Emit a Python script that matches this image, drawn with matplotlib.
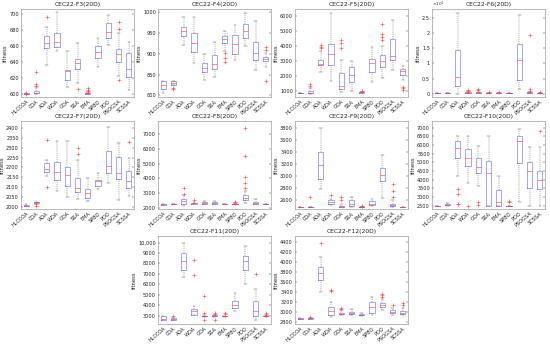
import numpy as np
import matplotlib
matplotlib.use("Agg")
import matplotlib.pyplot as plt
from matplotlib.ticker import FuncFormatter

algos = ["HLCCOA", "COA", "AOA", "WOA", "GOA", "SSA", "EMA", "SPBO", "PDO", "PSOGSA", "SCSSA"]

# each box: (whisker low, q1, median, q3, whisker high, [fliers])
F3 = [(600, 600, 600.3, 600.6, 601, [600.2, 600.4]),
      (600, 600.5, 601, 604, 608, [610, 612, 627]),
      (636, 657, 663, 672, 683, [696]),
      (653, 659, 665, 676, 702, []),
      (608, 617, 629, 630, 654, []),
      (613, 631, 638, 644, 663, [606]),
      (600, 600.2, 600.5, 601, 601.5, [602, 603, 605, 607]),
      (633, 645, 652, 660, 670, []),
      (661, 670, 677, 688, 699, []),
      (622, 640, 650, 656, 676, [681, 690, 617]),
      (605, 621, 631, 651, 665, [])]
F4 = [(806, 816, 824, 834, 834, []),
      (826, 826, 830, 834, 834, [818, 815]),
      (922, 944, 954, 964, 988, []),
      (878, 904, 926, 950, 988, []),
      (836, 856, 866, 878, 900, []),
      (844, 864, 876, 898, 928, []),
      (908, 926, 936, 944, 954, [902, 890, 880]),
      (884, 900, 924, 946, 970, []),
      (918, 938, 956, 972, 998, []),
      (862, 884, 902, 928, 978, []),
      (868, 882, 888, 892, 902, [917, 910, 835])]
F5 = [(880, 885, 890, 895, 900, []),
      (850, 860, 900, 1000, 1240, [1350, 1480]),
      (2280, 2725, 2840, 3100, 3720, [4100, 3900, 3950]),
      (1690, 2790, 3500, 4160, 6220, []),
      (950, 1150, 1330, 2200, 3080, [4400, 4200, 3900]),
      (1000, 1620, 2100, 2600, 3050, []),
      (900, 920, 940, 960, 980, [1000, 1020]),
      (1620, 2300, 2880, 3160, 3980, []),
      (1900, 2600, 3050, 3400, 4050, [5500, 4800, 4600, 4400]),
      (2450, 3060, 3390, 4500, 5750, []),
      (1770, 2060, 2390, 2500, 2700, [1300, 1200, 1100])]
F6 = [(0.018, 0.018, 0.019, 0.02, 0.021, []),
      (0.018, 0.019, 0.02, 0.021, 0.022, []),
      (0.0, 0.245, 0.54, 1.45, 2.64, []),
      (0.02, 0.03, 0.04, 0.05, 0.07, [0.1, 0.12, 0.09]),
      (0.02, 0.03, 0.04, 0.05, 0.07, [0.12, 0.15]),
      (0.02, 0.025, 0.03, 0.035, 0.04, [0.06]),
      (0.02, 0.025, 0.03, 0.035, 0.04, [0.07]),
      (0.02, 0.025, 0.03, 0.035, 0.04, []),
      (0.16, 0.46, 1.1, 1.65, 2.58, []),
      (0.02, 0.03, 0.04, 0.05, 0.07, [1.92, 0.15, 0.1]),
      (0.02, 0.025, 0.03, 0.035, 0.04, [0.06])]
F7 = [(2002, 2003, 2005, 2008, 2016, []),
      (2020, 2021, 2022, 2023, 2024, [2003, 2012]),
      (2154, 2174, 2193, 2221, 2237, [2337, 2100]),
      (2080, 2138, 2176, 2226, 2332, []),
      (2050, 2105, 2163, 2201, 2332, []),
      (2038, 2075, 2097, 2146, 2238, [2299, 2266]),
      (2027, 2043, 2071, 2088, 2146, []),
      (2088, 2105, 2129, 2138, 2171, []),
      (2121, 2171, 2209, 2282, 2403, []),
      (2033, 2141, 2171, 2254, 2325, []),
      (2055, 2096, 2133, 2179, 2249, [2328])]
F8 = [(2200, 2205, 2210, 2215, 2220, []),
      (2210, 2215, 2220, 2225, 2230, []),
      (2130, 2240, 2430, 2600, 2870, [3350, 2900]),
      (2220, 2250, 2290, 2320, 2400, [2500]),
      (2220, 2250, 2300, 2380, 2420, []),
      (2210, 2230, 2300, 2370, 2420, []),
      (2210, 2215, 2220, 2225, 2230, []),
      (2210, 2220, 2230, 2240, 2250, [2300, 2350, 2400]),
      (2280, 2520, 2680, 2850, 3100, [7400, 5500, 4100, 3700, 3350]),
      (2220, 2250, 2320, 2380, 2560, []),
      (2210, 2215, 2220, 2225, 2230, [])]
F9 = [(2481, 2481, 2481, 2481, 2481, []),
      (2481, 2481, 2481, 2483, 2485, [2650]),
      (2789, 2951, 3184, 3411, 3816, []),
      (2510, 2540, 2570, 2600, 2620, [2680]),
      (2481, 2481, 2482, 2500, 2530, [2650, 2600]),
      (2481, 2500, 2530, 2600, 2650, []),
      (2481, 2481, 2482, 2484, 2490, [2500, 2505]),
      (2500, 2520, 2540, 2580, 2620, []),
      (2627, 2914, 3022, 3130, 3357, []),
      (2481, 2500, 2520, 2540, 2600, [2870, 2760, 2650]),
      (2481, 2481, 2481, 2482, 2483, [])]
F10 = [(2500, 2500, 2501, 2502, 2503, []),
       (2510, 2520, 2540, 2620, 2630, []),
       (4190, 5220, 5840, 6250, 6530, [3450, 3200, 2620, 2580]),
       (3810, 4810, 5220, 5750, 6530, [2500]),
       (3620, 4370, 4750, 5255, 5910, [2700, 2550]),
       (2500, 2500, 4410, 5070, 6530, []),
       (2500, 2500, 2690, 3400, 4190, []),
       (2500, 2500, 2501, 2502, 2503, [2750, 2700]),
       (2690, 4940, 6250, 6530, 6940, []),
       (2500, 3490, 4470, 5030, 5870, []),
       (2500, 3440, 4000, 4470, 5870, [6810])]
F11 = [(2600, 2620, 2700, 2950, 3000, []),
       (2600, 2620, 2650, 2750, 2900, [3000]),
       (6705, 7335, 8275, 8965, 10000, []),
       (3050, 3100, 3400, 3660, 3880, [8350, 6850]),
       (2900, 2920, 2950, 3000, 3050, [4850, 3300, 2600]),
       (2900, 2920, 2950, 3050, 3100, [3200, 3250, 2600]),
       (2900, 2920, 2950, 2960, 2980, [3300, 3200]),
       (3410, 3730, 4050, 4360, 5140, []),
       (6020, 7340, 8275, 8750, 9690, []),
       (2630, 2940, 3410, 4450, 5600, [6950]),
       (2900, 2920, 2950, 2960, 2980, [3100, 3200, 3300])]
F12 = [(2864, 2864, 2865, 2866, 2867, []),
       (2864, 2865, 2868, 2875, 2880, [2890]),
       (3400, 3650, 3780, 3910, 4100, [4380]),
       (2900, 2945, 3010, 3095, 3190, [3450, 3420]),
       (2930, 2950, 2965, 2985, 3030, [3050, 3070]),
       (2930, 2950, 2970, 3000, 3050, []),
       (2920, 2935, 2945, 2960, 2970, []),
       (2930, 2980, 3090, 3190, 3290, []),
       (3040, 3095, 3140, 3170, 3255, [3300, 3330, 3350]),
       (2940, 2970, 3000, 3030, 3080, [3140]),
       (2930, 2950, 2980, 3020, 3080, [3140, 3170])]

panels = [
    ("CEC22-F3(20D)", F3, (596, 706), np.arange(600, 701, 20), 1),
    ("CEC22-F4(20D)", F4, (796, 1008), np.arange(800, 1001, 50), 1),
    ("CEC22-F5(20D)", F5, (620, 6500), np.arange(1000, 6001, 1000), 1),
    ("CEC22-F6(20D)", F6, (-0.1, 2.78), np.arange(0, 2.6, 0.5), 1e4),
    ("CEC22-F7(20D)", F7, (1988, 2436), np.arange(2000, 2401, 50), 1),
    ("CEC22-F8(20D)", F8, (1900, 7900), np.arange(2000, 7001, 1000), 1),
    ("CEC22-F9(20D)", F9, (2450, 3925), np.arange(2600, 3801, 200), 1),
    ("CEC22-F10(20D)", F10, (2310, 7375), np.arange(2500, 7001, 500), 1),
    ("CEC22-F11(20D)", F11, (2200, 10630), np.arange(3000, 10001, 1000), 1),
    ("CEC22-F12(20D)", F12, (2754, 4530), np.arange(2800, 4401, 200), 1),
]

# axes placement in pixels (left, top) for 550x344 canvas
W, H = 550, 344
aw, ah = 113, 88
lefts = [21, 158, 295, 432]
tops = [9, 121, 236]
slots = [(r, c) for r in range(2) for c in range(4)] + [(2, 1), (2, 2)]

fig = plt.figure(figsize=(5.5, 3.44), dpi=100)


def fmt(v, pos):
    if abs(v) >= 10000:
        return "{:,.0f}".format(v)
    return "{:g}".format(v)


for (title, data, ylim, ticks, scale), (r, c) in zip(panels, slots):
    ax = fig.add_axes([lefts[c] / W, 1 - (tops[r] + ah) / H, aw / W, ah / H])
    stats = []
    for lo, q1, med, q3, hi, fl in data:
        stats.append(dict(whislo=lo, q1=q1, med=med, q3=q3, whishi=hi, fliers=fl))
    ax.bxp(stats, widths=0.5, showfliers=True,
           boxprops=dict(color="#7474ff", lw=0.45),
           medianprops=dict(color="#ff4a4a", lw=0.45),
           whiskerprops=dict(color="#555555", lw=0.35, ls=(0, (2, 2))),
           capprops=dict(color="#555555", lw=0.35),
           flierprops=dict(marker="+", markeredgecolor="#ff4a4a", markersize=2.5, markeredgewidth=0.4))
    ax.set_ylim(*ylim)
    ax.set_yticks(ticks)
    if scale != 1:
        ax.yaxis.set_major_formatter(FuncFormatter(lambda v, p: "{:g}".format(v)))
        ax.text(0, 1.005, r"$\times10^4$", transform=ax.transAxes, fontsize=3.0,
                ha="left", va="bottom", color="#333333")
    else:
        ax.yaxis.set_major_formatter(FuncFormatter(fmt))
    ax.set_xticks(range(1, len(algos) + 1))
    ax.set_xticklabels(algos, rotation=40, ha="right", rotation_mode="anchor")
    ax.set_xlim(0.5, len(algos) + 0.5)
    ax.tick_params(labelsize=3.6, length=1.5, width=0.3, direction="in",
                   colors="#222222", pad=1.5, top=True, right=True)
    ax.tick_params(axis="x", length=0)
    for s in ax.spines.values():
        s.set_linewidth(0.4)
        s.set_color("#888888")
    ax.set_title(title, fontsize=4.3, pad=2, color="#222222")
    ax.set_ylabel("fitness", fontsize=3.8, labelpad=1.0, color="#222222")

fig.savefig("out.png", dpi=100)
